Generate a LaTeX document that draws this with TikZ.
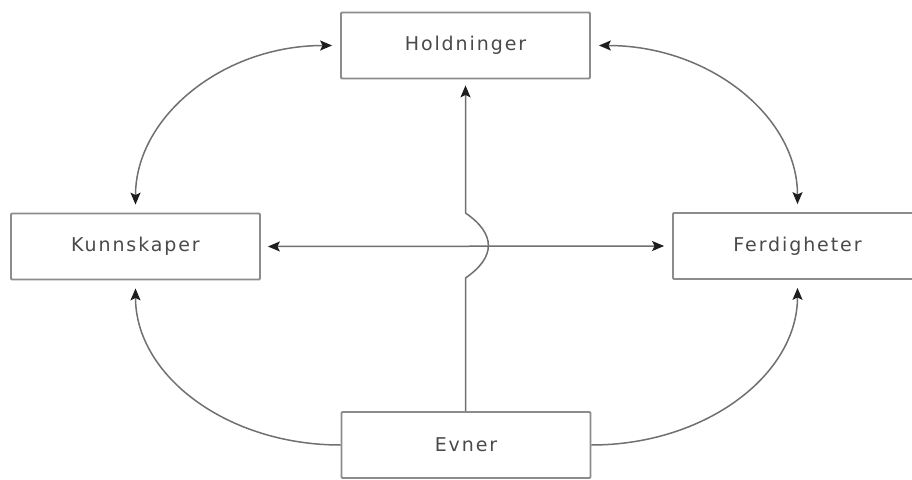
\documentclass[tikz,border=0pt]{standalone}
\usepackage{fontspec}
\setmainfont{DejaVu Sans}
\usetikzlibrary{arrows.meta}
\definecolor{boxline}{HTML}{8C8C8C}
\definecolor{conline}{HTML}{707070}
\definecolor{tipcol}{HTML}{1E1E1E}
\definecolor{txtcol}{HTML}{4A4A4A}
\tikzset{
  box/.style={draw=boxline, line width=1.8pt, fill=white, rounded corners=1pt,
    minimum width=249pt, minimum height=66pt, inner sep=0pt,
    font=\fontsize{19}{22}\selectfont\addfontfeatures{LetterSpace=10}, text=txtcol},
  con/.style={draw=conline, line width=1.5pt},
  tip/.style={-{Stealth[length=12pt,width=10pt,inset=2.5pt,color=tipcol]}},
  dtip/.style={{Stealth[length=12pt,width=10pt,inset=2.5pt,color=tipcol]}-{Stealth[length=12pt,width=10pt,inset=2.5pt,color=tipcol]}}
}
\begin{document}
\begin{tikzpicture}[x=1pt,y=-1pt]
\useasboundingbox (0,0) rectangle (912,479);
\clip (0,0) rectangle (912,479);
\fill[white] (0,0) rectangle (912,479);
\node[box] (H) at (465.5,45.5) {Holdninger};
\node[box] (K) at (135.5,246.5) {Kunnskaper};
\node[box] (F) at (797.5,246) {Ferdigheter};
\node[box] (E) at (466,445) {Evner};
% curved double arrows at top
\draw[con,dtip] ([xshift=-8pt]H.west) .. controls +(-109,0) and +(0,-88) .. ([yshift=8pt]K.north);
\draw[con,dtip] ([xshift=8pt]H.east) .. controls +(110,0) and +(0,-88) .. ([yshift=8pt]F.north);
% horizontal double arrow
\draw[con,dtip] ([xshift=7pt]K.east) -- ([xshift=-8pt]F.west);
% bottom curves
\draw[con,tip] (E.west) .. controls +(-114,0) and +(0,87) .. ([yshift=-8pt]K.south);
\draw[con,tip] (E.east) .. controls +(114,0) and +(0,87) .. ([yshift=-8pt]F.south);
% vertical with jump
\coordinate (j1) at (465.5,278);
\coordinate (j2) at (465.5,213);
\draw[con,tip] (E.north -| H.south) -- (j1) .. controls (496,257) and (496,234) .. (j2) -- ([yshift=-6pt]H.south);
\end{tikzpicture}
\end{document}
